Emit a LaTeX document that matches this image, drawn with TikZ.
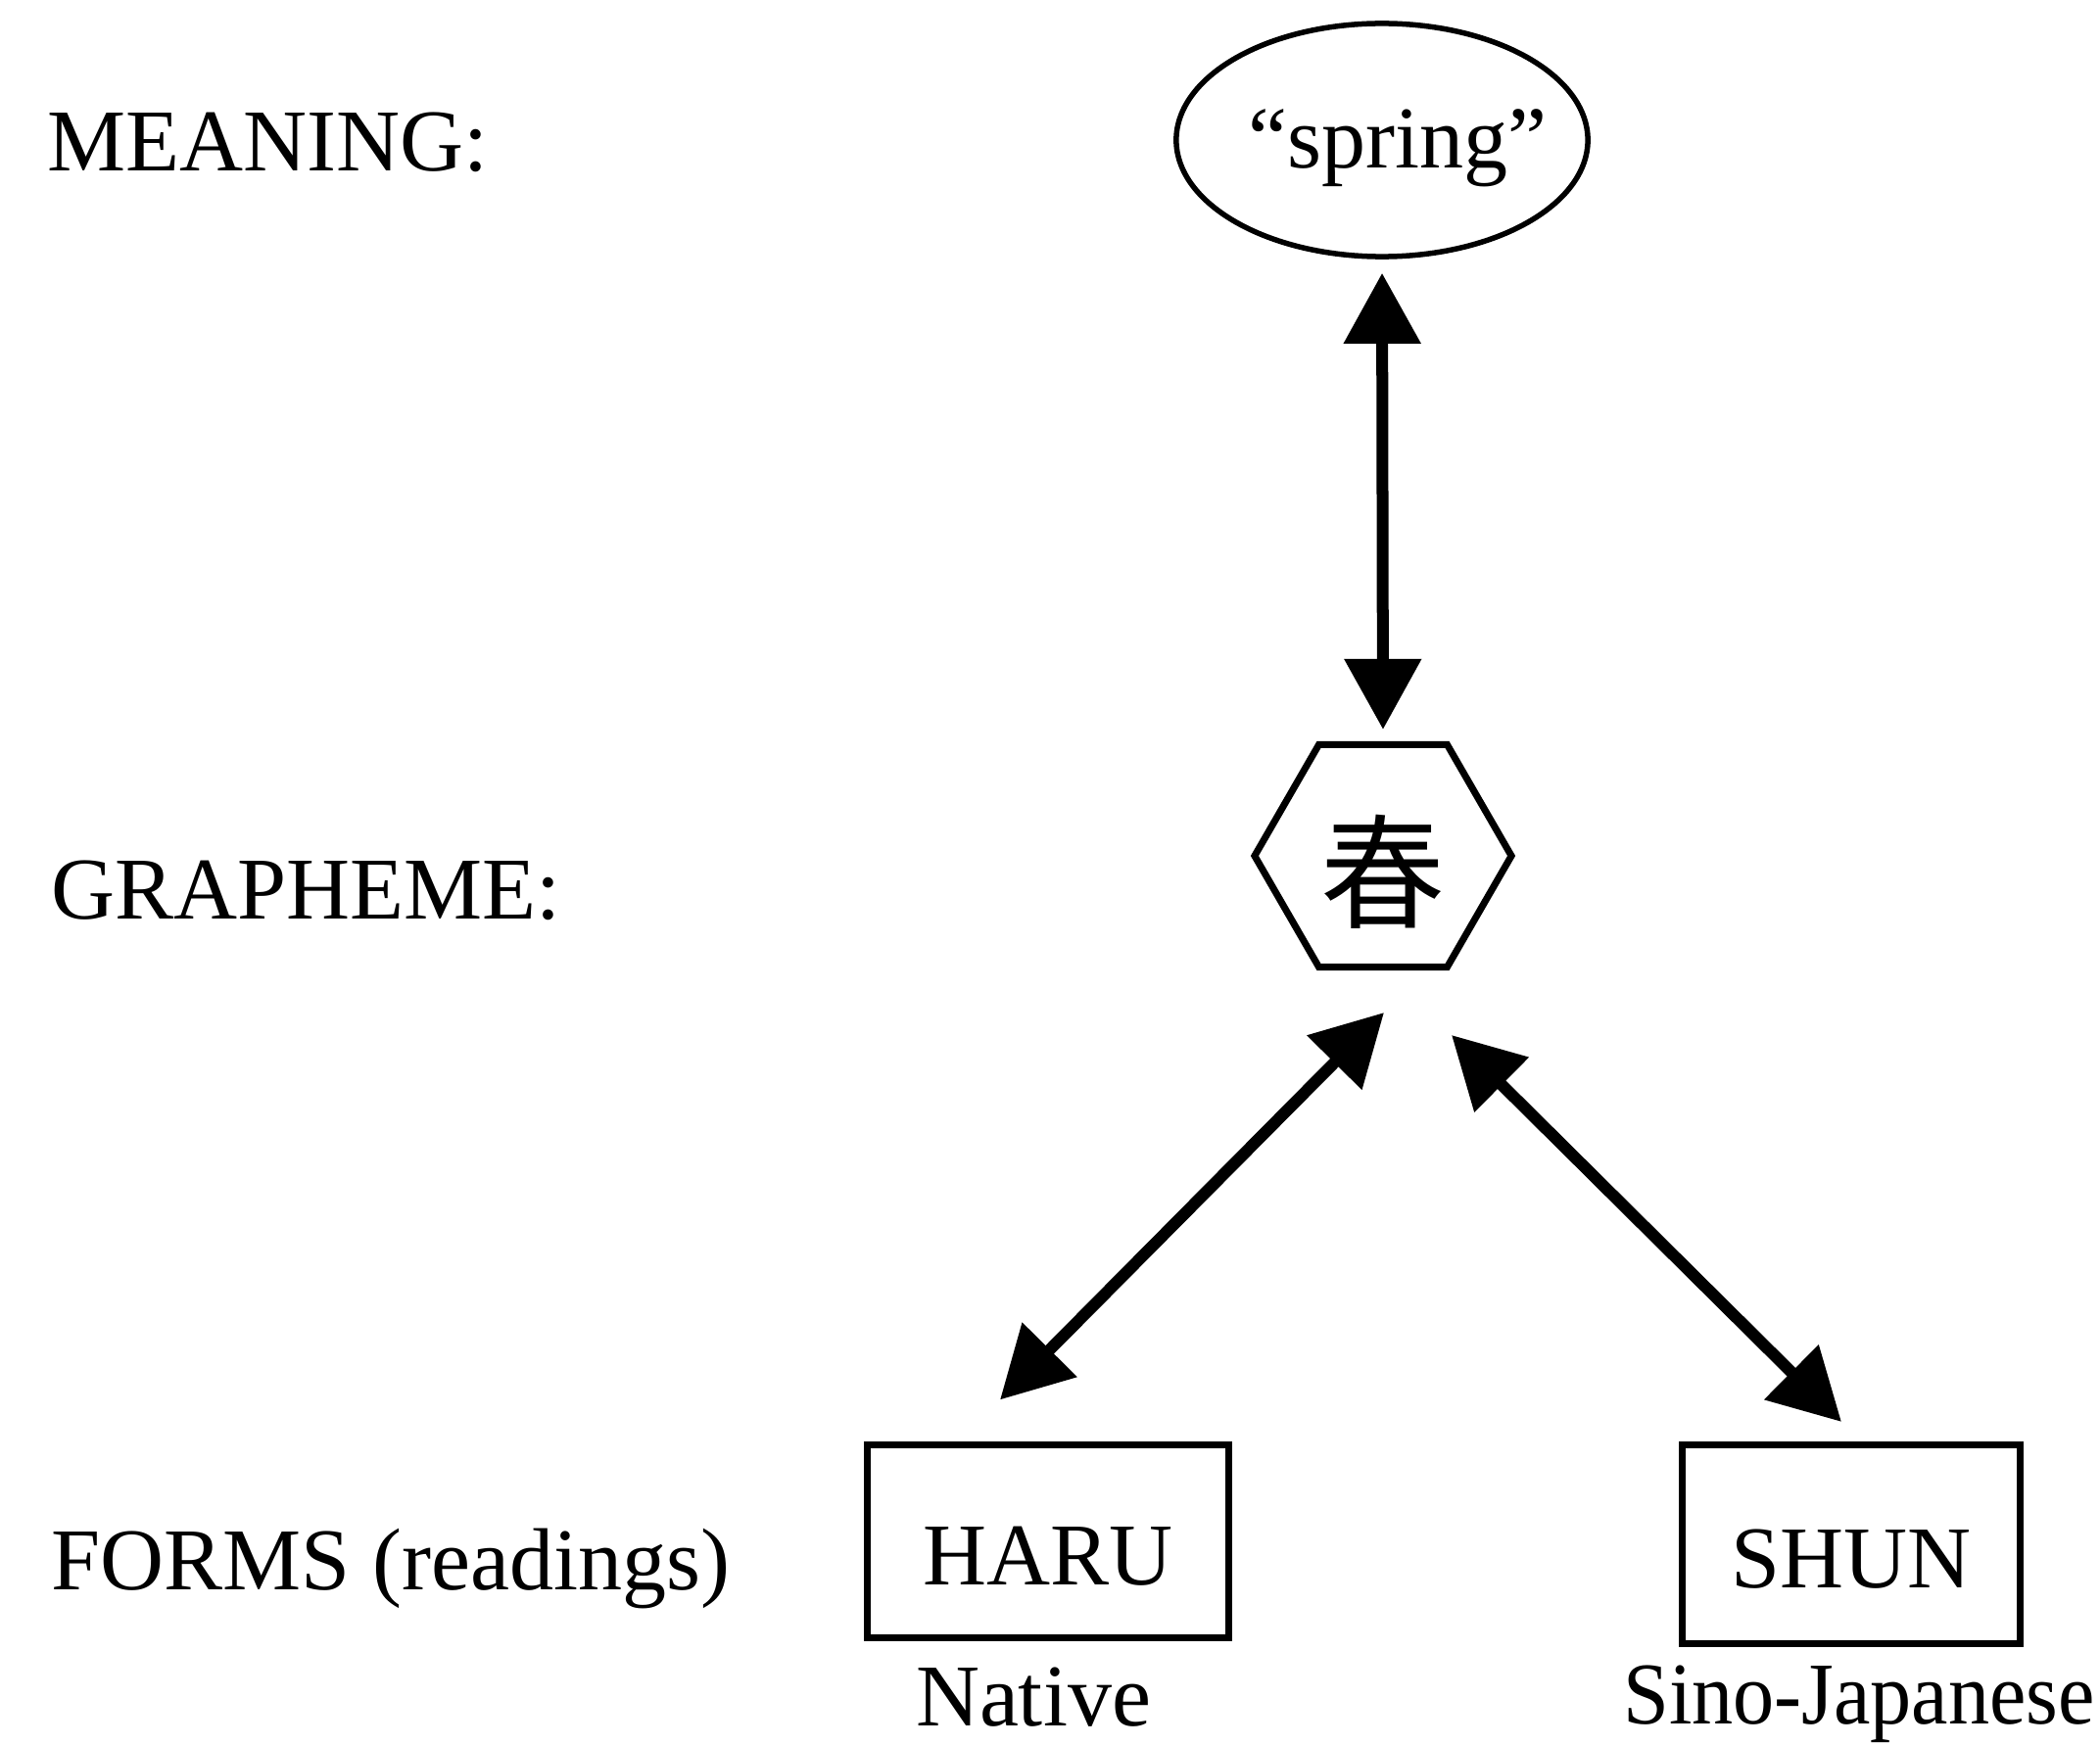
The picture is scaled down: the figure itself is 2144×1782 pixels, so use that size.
\documentclass[tikz,border=0pt]{standalone}
\usepackage{fontspec}
\usepackage{graphicx}
\setmainfont{Liberation Serif}
\newfontfamily\cjkfont{Noto Sans CJK JP}
\usetikzlibrary{arrows.meta,shapes.geometric,calc}

\begin{document}
\begin{tikzpicture}[x=0.01cm,y=-0.01cm,
  every node/.style={font=\fontsize{25.6pt}{30pt}\selectfont, inner sep=0pt},
  level/.style={anchor=base west},
  meaningnode/.style={draw, ellipse, line width=0.055cm, minimum width=4.2cm,
    minimum height=2.38cm, text height=0.70cm, text depth=0.14cm},
  graphnode/.style={draw, regular polygon, regular polygon sides=6, line width=0.07cm,
    minimum size=2.62cm, font=\cjkfont\fontsize{36pt}{42pt}\selectfont,
    text height=1.38cm, text depth=0.09cm},
  formbox/.style={draw, rectangle, line width=0.07cm, text height=0.88cm, text depth=0cm},
  caption/.style={anchor=base},
  biarrow/.style={line width=0.12cm,
    {Triangle[length=0.72cm,width=0.76cm]}-{Triangle[length=0.72cm,width=0.76cm]}}
]
\useasboundingbox (0,0) rectangle (2144,1782);

% row labels
\node[level] (lmeaning) at (48,175) {MEANING:};
\node[level] (lgraph) at (52,938) {GRAPHEME:};
\node[level] (lforms) at (52,1623) {FORMS (readings)};

% meaning, grapheme and the two readings
\node[meaningnode] (meaning) at (1411,143) {\makebox[0pt]{\kern0.32cm “spring”}};
\node[graphnode] (graph) at (1412,874) {春};
\node[formbox, minimum width=3.69cm, minimum height=1.96cm] (haru) at (1070,1574) {HARU};
\node[formbox, minimum width=3.44cm, minimum height=2.03cm] (shun) at (1890,1577) {SHUN};

% reading types
\node[caption] (native) at (1055,1762) {Native};
\node[caption] (sino) at (1898,1760) {\scalebox{0.935}[1]{Sino-Japanese}};

% links
\draw[biarrow, shorten <=0.14cm, shorten >=0.12cm] (meaning.south) -- (graph.north);
\draw[biarrow] ($(graph.south)+(1,43)$) -- ($(haru.north)+(-49,-43)$);
\draw[biarrow] ($(graph.south)+(70,66)$) -- ($(shun.north)+(-10,-20)$);
\end{tikzpicture}
\end{document}
